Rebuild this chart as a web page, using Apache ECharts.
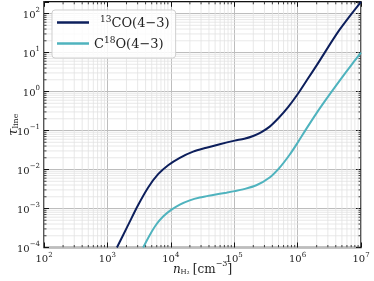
<!DOCTYPE html>
<html><head><meta charset="utf-8">
<script src="https://cdn.jsdelivr.net/npm/echarts@6/dist/echarts.min.js"></script>
<style>html,body{margin:0;padding:0;background:#fff}#c{width:374px;height:281px}</style>
</head><body><div id="c"></div>
<script>
// ---- data ----
const nH2_13CO = [1413, 2128, 3055, 4395, 6310, 9080, 13870, 22490, 36480, 59160, 101900, 144500, 199500, 269200, 363100, 501200, 707900, 1.0e6, 1.413e6, 1.995e6, 4.571e6, 1e7];
const tau_13CO = [1e-4, 3.8e-4, 1.23e-3, 3.47e-3, 7.6e-3, 1.29e-2, 2.0e-2, 2.88e-2, 3.63e-2, 4.47e-2, 5.5e-2, 6.17e-2, 7.24e-2, 9.12e-2, 0.126, 0.209, 0.398, 0.851, 2.0, 4.68, 38, 200];
const nH2_C18O = [3665, 4667, 5943, 7568, 1e4, 13870, 19910, 28640, 46450, 75340, 101900, 137700, 223400, 362200, 521200, 748200, 1.012e6, 1.371e6, 1.968e6, 2.831e6, 4.064e6, 5.834e6, 7.943e6, 1e7];
const tau_C18O = [1e-4, 2.1e-4, 3.94e-4, 6.22e-4, 9.06e-4, 1.26e-3, 1.62e-3, 1.91e-3, 2.22e-3, 2.55e-3, 2.79e-3, 3.09e-3, 3.94e-3, 6.24e-3, 1.12e-2, 2.39e-2, 5.0e-2, 0.110, 0.272, 0.638, 1.44, 3.18, 6.18, 10.0];
const seriesNames = ['13CO(4−3)', 'C18O(4−3)'];
const xTickExps = [2, 3, 4, 5, 6, 7];
const yTickExps = [-4, -3, -2, -1, 0, 1, 2];
const xMin = 1e2, xMax = 1e7, yMin = 1e-4, yMax = 200;

// ---- helpers ----
const SERIF = 'DejaVu Serif';
function expLabel(v, exps) {
  const e = Math.round(Math.log10(v));
  if (Math.abs(Math.log10(v) - e) > 1e-6 || exps.indexOf(e) < 0) return '';
  return '{b|10}{s|' + String(e).replace('-', '−') + '}';
}
const tickRich = {
  b: {fontFamily: SERIF, fontSize: 10, color: '#222', lineHeight: 13, verticalAlign: 'bottom'},
  s: {fontFamily: SERIF, fontSize: 7, color: '#222', lineHeight: 13, verticalAlign: 'top'}
};
function zip(a, b) { return a.map((v, i) => [v, b[i]]); }
const xMinor = [], yMinor = [];
for (let k = 2; k < 7; k++) for (let m = 2; m <= 9; m++) xMinor.push([m * Math.pow(10, k), yMin]);
for (let k = -4; k < 2; k++) for (let m = 2; m <= 9; m++) yMinor.push([xMin, m * Math.pow(10, k)]);

const chart = echarts.init(document.getElementById('c'), null, {renderer: 'canvas'});
const gridColor = '#bdbdbd', minorColor = '#e2e2e2';
const option = {
  animation: false,
  grid: {left: 44, right: 13, top: 1.8, bottom: 33.5, outerBoundsMode: 'none', containLabel: false,
         show: true, borderColor: '#111', borderWidth: 1.4, backgroundColor: 'transparent'},
  legend: {
    left: 52, top: 10, orient: 'vertical', itemWidth: 32, itemHeight: 2.5, icon: 'rect', itemGap: 6,
    padding: [5, 6, 7, 5], borderColor: '#cfcfcf', borderWidth: 1, borderRadius: 3, backgroundColor: 'rgba(255,255,255,0.85)',
    data: seriesNames.map(n => ({name: n})),
    formatter: function (n) {
      if (n === seriesNames[0]) return '{s0|13}{t|CO(4−3)}';
      return '{t|C}{s|18}{t|O(4−3)}';
    },
    textStyle: {rich: {
      t: {fontFamily: SERIF, fontSize: 13, color: '#222', lineHeight: 15, verticalAlign: 'bottom'},
      s: {fontFamily: SERIF, fontSize: 9, color: '#222', lineHeight: 15, verticalAlign: 'top'},
      s0: {fontFamily: SERIF, fontSize: 9, color: '#222', lineHeight: 15, verticalAlign: 'top', padding: [0, 0, 0, 6]}
    }}
  },
  xAxis: [{
    type: 'log', logBase: 10, min: xMin, max: xMax, splitNumber: 5,
    axisLine: {show: false},
    axisTick: {inside: true, length: 5, lineStyle: {color: '#111', width: 1}},
    axisLabel: {margin: 4, formatter: v => expLabel(v, xTickExps), rich: tickRich},
    splitLine: {show: true, lineStyle: {color: gridColor, width: 1}},
    name: '{n|n}{sub|H₂} {t|[cm}{sup|−3}{t|]}', nameLocation: 'middle', nameGap: 12.5, nameMoveOverlap: false,
    nameTextStyle: {rich: {
      n: {fontFamily: SERIF, fontStyle: 'italic', fontSize: 12, color: '#222', lineHeight: 16, verticalAlign: 'bottom'},
      sub: {fontFamily: SERIF, fontSize: 7, color: '#222', lineHeight: 16, verticalAlign: 'bottom'},
      t: {fontFamily: SERIF, fontSize: 12, color: '#222', lineHeight: 16, verticalAlign: 'bottom'},
      sup: {fontFamily: SERIF, fontSize: 8, color: '#222', lineHeight: 16, verticalAlign: 'top'}
    }}
  }, {
    type: 'log', logBase: 10, min: xMin, max: xMax, splitNumber: 5, position: 'top',
    axisLine: {show: false}, axisLabel: {show: false}, splitLine: {show: false},
    axisTick: {inside: true, length: 5, lineStyle: {color: '#111', width: 1}}
  }],
  yAxis: [{
    type: 'log', logBase: 10, min: yMin, max: yMax, splitNumber: 7,
    axisLine: {show: false},
    axisTick: {inside: true, length: 5, lineStyle: {color: '#111', width: 1}},
    axisLabel: {margin: 4, formatter: v => expLabel(v, yTickExps), rich: tickRich},
    splitLine: {show: true, lineStyle: {color: gridColor, width: 1}},
    name: '{t|τ}{sub|line}', nameLocation: 'middle', nameGap: 24, nameRotate: 90, nameMoveOverlap: false,
    nameTextStyle: {rich: {
      t: {fontFamily: SERIF, fontStyle: 'italic', fontSize: 13, color: '#222', lineHeight: 16, verticalAlign: 'bottom'},
      sub: {fontFamily: SERIF, fontSize: 8, color: '#222', lineHeight: 16, verticalAlign: 'bottom'}
    }}
  }, {
    type: 'log', logBase: 10, min: yMin, max: yMax, splitNumber: 7, position: 'right',
    axisLine: {show: false}, axisLabel: {show: false}, splitLine: {show: false},
    axisTick: {inside: true, length: 5, lineStyle: {color: '#111', width: 1}}
  }],
  series: [
    {
      type: 'custom', silent: true, z: 1, data: xMinor, clip: true,
      renderItem: function (params, api) {
        const v = api.value(0);
        const a = api.coord([v, yMin]), b = api.coord([v, yMax]);
        return {type: 'group', children: [
          {type: 'line', shape: {x1: a[0], y1: a[1], x2: b[0], y2: b[1]}, style: {stroke: minorColor, lineWidth: 0.8}},
          {type: 'line', z2: 5, shape: {x1: a[0], y1: a[1], x2: a[0], y2: a[1] - 2.5}, style: {stroke: '#111', lineWidth: 0.8}},
          {type: 'line', z2: 5, shape: {x1: b[0], y1: b[1], x2: b[0], y2: b[1] + 2.5}, style: {stroke: '#111', lineWidth: 0.8}}
        ]};
      }
    },
    {
      type: 'custom', silent: true, z: 1, data: yMinor, clip: true,
      renderItem: function (params, api) {
        const v = api.value(1);
        const a = api.coord([xMin, v]), b = api.coord([xMax, v]);
        return {type: 'group', children: [
          {type: 'line', shape: {x1: a[0], y1: a[1], x2: b[0], y2: b[1]}, style: {stroke: minorColor, lineWidth: 0.8}},
          {type: 'line', z2: 5, shape: {x1: a[0], y1: a[1], x2: a[0] + 2.5, y2: a[1]}, style: {stroke: '#111', lineWidth: 0.8}},
          {type: 'line', z2: 5, shape: {x1: b[0], y1: b[1], x2: b[0] - 2.5, y2: b[1]}, style: {stroke: '#111', lineWidth: 0.8}}
        ]};
      }
    },
    {
      name: seriesNames[0], type: 'line', z: 3, data: zip(nH2_13CO, tau_13CO), showSymbol: false, symbol: 'none',
      smooth: 0.3, clip: true, lineStyle: {color: '#0d1f5c', width: 2}, itemStyle: {color: '#0d1f5c'}
    },
    {
      name: seriesNames[1], type: 'line', z: 3, data: zip(nH2_C18O, tau_C18O), showSymbol: false, symbol: 'none',
      smooth: 0.3, clip: true, lineStyle: {color: '#4fb3be', width: 2}, itemStyle: {color: '#4fb3be'}
    }
  ]
};
chart.setOption(option);
</script></body></html>
